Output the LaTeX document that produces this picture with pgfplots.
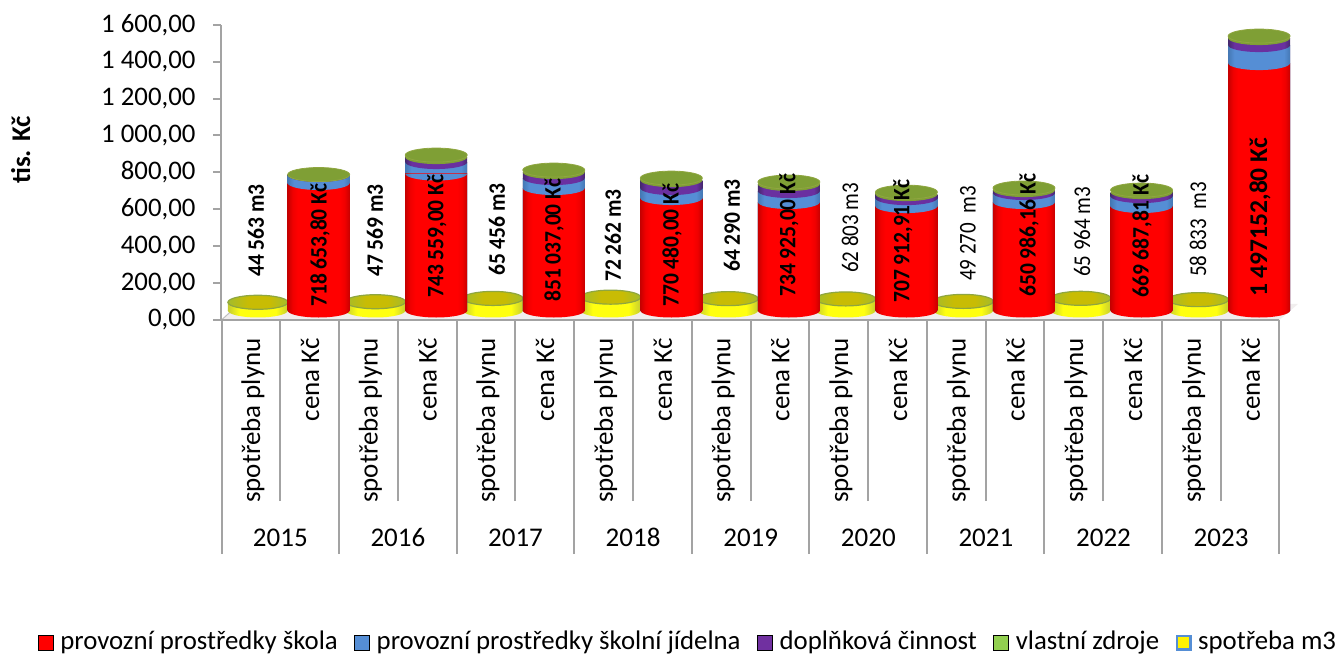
\documentclass[border=0pt]{standalone}
\usepackage{fontspec}
\setmainfont{Carlito}
\usepackage{graphicx}
\usepackage{pgfplots}
\pgfplotsset{compat=1.18}

\definecolor{axgray}{HTML}{A3A3A3}
\definecolor{capgreen}{HTML}{7F9F35}
\definecolor{discolive}{HTML}{B4BC14}
\definecolor{discrim}{HTML}{8FA640}
\definecolor{blueC}{HTML}{558ED5}
\definecolor{blueD}{HTML}{4578B4}
\definecolor{purpleC}{HTML}{6A30A0}
\definecolor{purpleD}{HTML}{45286E}
\definecolor{yellowC}{HTML}{FFFF10}
\definecolor{yellowD}{HTML}{C4CC30}
\definecolor{discA}{HTML}{A4BC2C}
\definecolor{discB}{HTML}{C8BC04}

\pgfdeclarehorizontalshading{redcyl}{100bp}{color(0bp)=(red!78!black);color(25bp)=(red!78!black);color(29bp)=(red!94!black);color(33bp)=(red);color(67bp)=(red);color(71bp)=(red!94!black);color(75bp)=(red!78!black);color(100bp)=(red!78!black)}
\pgfdeclarehorizontalshading{bluecyl}{100bp}{color(0bp)=(blueD);color(25bp)=(blueD);color(30bp)=(blueC);color(70bp)=(blueC);color(75bp)=(blueD);color(100bp)=(blueD)}
\pgfdeclarehorizontalshading{purplecyl}{100bp}{color(0bp)=(purpleD);color(25bp)=(purpleD);color(30bp)=(purpleC);color(70bp)=(purpleC);color(75bp)=(purpleD);color(100bp)=(purpleD)}
\pgfdeclarehorizontalshading{yellowcyl}{100bp}{color(0bp)=(yellowD);color(25bp)=(yellowD);color(35bp)=(yellowC);color(65bp)=(yellowC);color(75bp)=(yellowD);color(100bp)=(yellowD)}
\pgfdeclarehorizontalshading{disctop}{100bp}{color(0bp)=(discA);color(25bp)=(discA);color(42bp)=(discB);color(60bp)=(discB);color(75bp)=(discA);color(100bp)=(discA)}

% lower half of a disc, in a cylinder shading, for the curved edge below a segment
\newcommand\halfmark[3]{\pgfdeclareplotmark{#1}{\pgfpathmoveto{\pgfqpoint{-#3pt}{0pt}}\pgfpatharc{180}{360}{#3pt and 7pt}\pgfpathclose\pgfshadepath{#2}{0}\pgfusepath{discard}}}
\halfmark{redH}{redcyl}{31}
\halfmark{blueH}{bluecyl}{31}
\halfmark{purpleH}{purplecyl}{31}
\halfmark{yellowH}{yellowcyl}{30}
\pgfdeclareplotmark{greenH}{\pgfsetfillcolor{capgreen}\pgfpathmoveto{\pgfqpoint{-31pt}{0pt}}\pgfpatharc{180}{360}{31pt and 7pt}\pgfpathclose\pgfusepath{fill}}
\pgfdeclareplotmark{capE}{\pgfsetfillcolor{capgreen}\pgfsetstrokecolor{discrim}\pgfsetlinewidth{0.8pt}\pgfpathellipse{\pgfpointorigin}{\pgfqpoint{31pt}{0pt}}{\pgfqpoint{0pt}{7pt}}\pgfusepath{fill,stroke}}
\pgfdeclareplotmark{discE}{\pgfpathellipse{\pgfpointorigin}{\pgfqpoint{30pt}{0pt}}{\pgfqpoint{0pt}{7pt}}\pgfshadepath{disctop}{0}\pgfusepath{discard}\pgfsetstrokecolor{discrim}\pgfsetlinewidth{1.2pt}\pgfpathellipse{\pgfpointorigin}{\pgfqpoint{30pt}{0pt}}{\pgfqpoint{0pt}{7pt}}\pgfusepath{stroke}}

% one cylinder: x, then the running totals (tis. Kc) after each of the four series
\newcommand\cyl[5]{%
  \addplot[draw=none,fill=capgreen] coordinates {(#1,#5)};
  \addplot[draw=none,shade,shading=purplecyl] coordinates {(#1,#4)};
  \addplot[draw=none,shade,shading=bluecyl] coordinates {(#1,#3)};
  \addplot[draw=none,shade,shading=redcyl] coordinates {(#1,#2)};
  \addplot[draw=none,fill=none,mark=redH] coordinates {(#1,0)};
  \addplot[draw=none,fill=none,mark=blueH] coordinates {(#1,#2)};
  \addplot[draw=none,fill=none,mark=purpleH] coordinates {(#1,#3)};
  \addplot[draw=none,fill=none,mark=greenH] coordinates {(#1,#4)};
  \addplot[draw=none,fill=none,mark=capE] coordinates {(#1,#5)};
}
\newcommand\disc[2]{%
  \addplot[draw=none,fill=none,mark=yellowH] coordinates {(#1,0)};
  \addplot[draw=none,shade,shading=yellowcyl,mark=discE] coordinates {(#1,#2)};
}
\newcommand\B[1]{\scalebox{0.915}[1]{#1}}
\newcommand\R[1]{\scalebox{0.875}[1]{#1}}

\begin{document}
\begin{tikzpicture}[x=1pt,y=1pt]
\path[use as bounding box] (0,0) rectangle (1336,654);
\pgfplotsset{base/.style={scale only axis,width=1058pt,height=295.3pt,xmin=0,xmax=18,ymin=0,ymax=1600,clip=false}}
% floor
\fill[color=red!8!gray!12] (221.5,{654-320}) -- (239,{654-304}) -- (1298,{654-304}) -- (1279.5,{654-320}) -- cycle;
\draw[color=axgray!70,line width=1pt] (221.5,{654-320}) -- (239,{654-304});
\begin{axis}[base,at={(221.5pt,334pt)},anchor=origin,axis y line=none,axis x line=bottom,axis line style={-,color=axgray,line width=2pt},
  xtick={0,2,...,18},xticklabels={},tick align=outside,major tick length=234pt,tick style={color=axgray,line width=2pt}]
\end{axis}
\begin{axis}[base,at={(221.5pt,334pt)},anchor=origin,axis y line=none,axis x line=bottom,axis line style={-,color=axgray,line width=2pt},
  xtick={1,3,...,17},xticklabels={},tick align=outside,major tick length=181pt,tick style={color=axgray,line width=2pt}]
\end{axis}
\begin{axis}[base,at={(221.5pt,334pt)},anchor=origin,
  axis x line=none,axis y line=left,axis line style={-,color=axgray,line width=2pt},
  ytick={0,200,...,1600},xtick=\empty,
  tick align=outside,major tick length=8pt,
  tick style={color=axgray,line width=2pt},
  tick label style={font=\fontsize{26.8}{30}\selectfont},
  yticklabel style={xshift=-14.5pt,/pgf/number format/.cd,fixed,fixed zerofill,precision=2,use comma,1000 sep={\ },assume math mode=true},
  ylabel={\bfseries tis. Kč},
  every axis y label/.style={at={(rel axis cs:-0.181,0.576)},rotate=90,anchor=base,font=\fontsize{27}{30}\selectfont},
]
\end{axis}
% discs
\begin{axis}[base,at={(228.5pt,343.5pt)},anchor=origin,hide axis,ybar,bar width=60pt,bar shift=0pt]
\disc{0.5}{44.563}
\disc{2.5}{47.569}
\disc{4.5}{65.456}
\disc{6.5}{72.262}
\disc{8.5}{64.290}
\disc{10.5}{62.803}
\disc{12.5}{49.270}
\disc{14.5}{65.964}
\disc{16.5}{58.833}
\end{axis}
% cylinders
\begin{axis}[base,at={(230.5pt,343.5pt)},anchor=origin,hide axis,ybar,bar width=62pt,bar shift=0pt,
  legend columns=5,
  legend image code/.code={\fill[#1] (0pt,-9.5pt) rectangle (15pt,5.5pt);},
  legend style={draw=none,fill=none,at={(rel axis cs:-0.182,-1.118)},anchor=west,inner sep=0pt,outer sep=0pt,
     font=\fontsize{26.8}{30}\selectfont,
     /tikz/every odd column/.append style={column sep=7pt},
     /tikz/every even column/.append style={column sep=16.5pt},
     nodes={inner xsep=0pt,inner ysep=0pt}},
]
\addlegendimage{fill=red}\addlegendentry{provozní prostředky škola}
\addlegendimage{fill=blueC}\addlegendentry{provozní prostředky školní jídelna}
\addlegendimage{fill={rgb,255:red,112;green,48;blue,160}}\addlegendentry{doplňková činnost}
\addlegendimage{fill={rgb,255:red,146;green,208;blue,80}}\addlegendentry{vlastní zdroje}
\addlegendimage{legend image code/.code={\fill[color=blueC] (0pt,-9.5pt) rectangle (15pt,5.5pt);\fill[yellow] (2.5pt,-7pt) rectangle (12.5pt,3pt);}}\addlegendentry{spotřeba m3}
\pgfplotsset{every axis plot/.append style={forget plot}}
\cyl{1.5}{690.7}{734.0}{735.0}{736.7}
\cyl{3.5}{742.1}{804.4}{831.4}{842.2}
\cyl{5.5}{663.6}{717.6}{750.1}{760.9}
\cyl{7.5}{609.4}{663.4}{706.4}{717.4}
\cyl{9.5}{587.8}{647.4}{685.4}{696.2}
\cyl{11.5}{566.0}{609.0}{630.7}{641.5}
\cyl{13.5}{587.8}{636.6}{652.6}{663.6}
\cyl{15.5}{566.0}{620.0}{641.7}{652.5}
\cyl{17.5}{1340.7}{1438.2}{1476.2}{1487.0}
\end{axis}
% value labels
\tikzset{lb/.style={rotate=90,anchor=west,inner sep=0pt,font=\fontsize{24}{26}\selectfont},bl/.style={lb,font=\fontsize{23.5}{26}\selectfont\bfseries}}
\node[bl] at (256,{654-277}) {\B{44 563 m3}};
\node[bl] at (375,{654-277}) {\B{47 569 m3}};
\node[bl] at (497,{654-276}) {\B{65 456 m3}};
\node[bl] at (613,{654-282}) {\B{72 262 m3}};
\node[bl] at (732,{654-272}) {\B{64 290 m3}};
\node[lb] at (850,{654-273}) {\R{62 803 m3}};
\node[lb] at (968,{654-281}) {\R{49 270\ \ m3}};
\node[lb] at (1082,{654-277}) {\R{65 964 m3}};
\node[lb] at (1198,{654-277}) {\R{58 833\ \ m3}};
\node[bl] at (320,{654-307}) {\B{718 653,80 Kč}};
\node[bl] at (437,{654-298}) {\B{743 559,00 Kč}};
\node[bl] at (554,{654-302}) {\B{851 037,00 Kč}};
\node[bl] at (672,{654-307}) {\B{770 480,00 Kč}};
\node[bl] at (789,{654-297}) {\B{734 925,00 Kč}};
\node[bl] at (903,{654-303}) {\B{707 912,91 Kč}};
\node[bl] at (1029,{654-297}) {\B{650 986,16 Kč}};
\node[bl] at (1142,{654-298}) {\B{669 687,81 Kč}};
\node[bl,font=\fontsize{25.5}{26}\selectfont\bfseries] at (1260,{654-297}) {1 497152,80 Kč};
% category labels
\foreach \k/\yr in {0/2015,1/2016,2/2017,3/2018,4/2019,5/2020,6/2021,7/2022,8/2023}{
  \node[rotate=90,anchor=base east,inner sep=0pt,font=\fontsize{27}{30}\selectfont] at ({260+117.6*\k},{654-338}) {spotřeba plynu};
  \node[rotate=90,anchor=base east,inner sep=0pt,font=\fontsize{27}{30}\selectfont] at ({319+117.6*\k},{654-338}) {cena Kč};
  \node[anchor=base,inner sep=0pt,font=\fontsize{27}{30}\selectfont] at ({280.3+117.6*\k},{654-546}) {\yr};
}
\end{tikzpicture}
\end{document}
